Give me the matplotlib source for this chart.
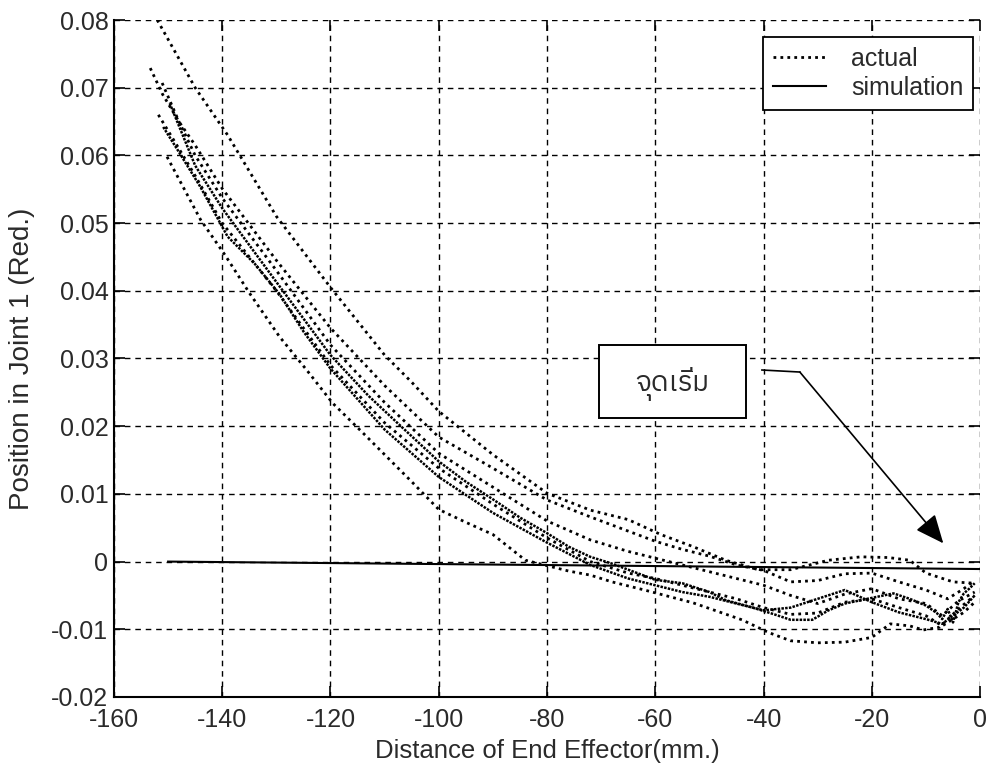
import matplotlib
matplotlib.use('Agg')
import matplotlib.pyplot as plt
from matplotlib import font_manager as fm
from matplotlib.ft2font import FT2Font
from matplotlib.lines import Line2D
from matplotlib.patches import Rectangle

xa = [-152, -145, -139, -130, -120, -110, -105, -100, -90, -80, -72, -65, -59, -53, -47, -41, -35, -28, -22, -17, -13, -10, -5, -1]
ya = [0.080, 0.0700, 0.0630, 0.0510, 0.0405, 0.0305, 0.0265, 0.0222, 0.0158, 0.0101, 0.0076, 0.0062, 0.0040, 0.0022, 0.0002, -0.0012, -0.0012, 0.0002, 0.0007, 0.0006, 0.0002, -0.0017, -0.0030, -0.0032]

xb = [-153.3, -151, -148, -145, -140, -130, -120, -110, -100, -90, -80, -72, -65, -60, -55, -50, -45, -40, -35, -30, -25, -20, -15, -10, -6, -3, -1]
yb = [0.0729, 0.0690, 0.0650, 0.0615, 0.0551, 0.0445, 0.0345, 0.0260, 0.0184, 0.0138, 0.0091, 0.0066, 0.0045, 0.0030, 0.0018, 0.0008, -0.0005, -0.0013, -0.0030, -0.0028, -0.0018, -0.0017, -0.0030, -0.0042, -0.0055, -0.0040, -0.0028]

xc = [-151.1, -148, -145, -140, -130, -120, -110, -100, -90, -80, -72, -65, -60, -55, -50, -45, -40, -35, -30, -25, -20, -15, -10, -7, -4, -1]
yc = [0.0707, 0.0650, 0.0600, 0.0537, 0.0430, 0.0320, 0.0235, 0.0160, 0.0110, 0.0060, 0.0032, 0.0015, 0.0005, -0.0005, -0.0015, -0.0025, -0.0035, -0.0050, -0.0062, -0.0048, -0.0040, -0.0055, -0.0062, -0.0080, -0.0058, -0.0045]

xh = [-149.7, -145, -140, -130, -120, -113, -107, -100, -95, -90, -85, -80, -76, -72, -68, -60, -55, -50, -47, -42, -38, -35, -31, -28, -25, -22, -19, -16, -13, -10, -8, -7, -6, -5, -4, -3, -2, -1]
yh = [0.0677, 0.0585, 0.0522, 0.0413, 0.0305, 0.0245, 0.0200, 0.0148, 0.0118, 0.0092, 0.0065, 0.0042, 0.0022, 0.0007, -0.0003, -0.0027, -0.0032, -0.0045, -0.0057, -0.0068, -0.0078, -0.0086, -0.0086, -0.0072, -0.0062, -0.0057, -0.0052, -0.0047, -0.0055, -0.0065, -0.0076, -0.0085, -0.0070, -0.0090, -0.0060, -0.0047, -0.0040, -0.0032]

xe = [-151.8, -148, -145, -140, -130, -120, -110, -100, -90, -80, -72, -65, -60, -55, -50, -45, -40, -35, -30, -25, -20, -15, -10, -7, -5, -3, -1]
ye = [0.0660, 0.0610, 0.0570, 0.0500, 0.0400, 0.0290, 0.0205, 0.0138, 0.0085, 0.0035, 0.0000, -0.0017, -0.0025, -0.0035, -0.0045, -0.0055, -0.0068, -0.0078, -0.0076, -0.0060, -0.0055, -0.0068, -0.0080, -0.0095, -0.0085, -0.0075, -0.0060]

xf = [-150.9, -148, -144, -139, -134, -129.4, -125, -120, -110, -100, -90, -80, -72, -65, -60, -55, -50, -45, -40, -35, -30, -25, -20, -15, -10, -7, -5, -3, -1]
yf = [0.0642, 0.0605, 0.0553, 0.0480, 0.0440, 0.0395, 0.0340, 0.0285, 0.0195, 0.0125, 0.0072, 0.0028, -0.0005, -0.0025, -0.0035, -0.0045, -0.0052, -0.0062, -0.0072, -0.0068, -0.0055, -0.0042, -0.0060, -0.0075, -0.0085, -0.0092, -0.0080, -0.0068, -0.0050]

xd = [-150.2, -147, -144, -139.5, -135, -129.4, -124.4, -119.6, -114, -110, -105, -100, -95, -90, -84, -80, -76, -72, -68, -62, -53, -44, -39, -35, -30, -25, -20, -16.6, -13, -10.5, -7.5, -4, -1]
yd = [0.0598, 0.0550, 0.0505, 0.0453, 0.0397, 0.0332, 0.0283, 0.0234, 0.0190, 0.0158, 0.0118, 0.0077, 0.0058, 0.0040, 0.0002, -0.0006, -0.0014, -0.0020, -0.0030, -0.0042, -0.0061, -0.0086, -0.0105, -0.0117, -0.0120, -0.0119, -0.0112, -0.0092, -0.0095, -0.0101, -0.0097, -0.0070, -0.0050]

# simulation
xs = [-150, 0]
ys = [0.0, -0.0011]

xticks = [-160, -140, -120, -100, -80, -60, -40, -20, 0]
yticks = [-0.02, -0.01, 0, 0.01, 0.02, 0.03, 0.04, 0.05, 0.06, 0.07, 0.08]
yticklabels = ['-0.02', '-0.01', '0', '0.01', '0.02', '0.03', '0.04', '0.05', '0.06', '0.07', '0.08']

# find something that can draw Thai
thai_font = None
fonts = sorted(fm.fontManager.ttflist, key=lambda f: 'Thai' not in f.name)
for f in fonts:
    try:
        if FT2Font(f.fname).get_char_index(0x0E08):
            thai_font = f.name
            break
    except Exception:
        pass

plt.rcParams['font.family'] = ['Liberation Sans', 'DejaVu Sans']
plt.rcParams['axes.unicode_minus'] = False
txt = '#2a2a2a'

fig = plt.figure(figsize=(9.91, 7.79), dpi=100)
ax = fig.add_axes([0.115, 0.1053, 0.874, 0.869])

dot = (0, (1, 1.5))
dense = (0, (1, 0.5))
for x, y in [(xa, ya), (xb, yb), (xc, yc), (xe, ye), (xd, yd)]:
    ax.plot(x, y, color='black', lw=2.0, linestyle=dot)
for x, y in [(xh, yh), (xf, yf)]:
    ax.plot(x, y, color='black', lw=1.8, linestyle=dense)
ax.plot(xs, ys, color='black', lw=1.5)

ax.set_xlim(-160, 0)
ax.set_ylim(-0.02, 0.08)
ax.set_xticks(xticks)
ax.set_yticks(yticks)
ax.set_yticklabels(yticklabels)
ax.tick_params(direction='in', length=8, width=1.2, top=True, right=True,
               labelsize=18, labelcolor=txt)
ax.tick_params(axis='x', pad=8)
ax.tick_params(axis='y', pad=4)
ax.grid(True, color='black', linestyle=(0, (4, 3.5)), lw=1)
ax.spines['top'].set_visible(False)
ax.spines['right'].set_visible(False)
ax.spines['left'].set_linewidth(1.5)
ax.spines['bottom'].set_linewidth(1.5)

ax.set_xlabel('Distance of End Effector(mm.)', fontsize=18.5, color=txt, labelpad=5)
ax.set_ylabel('Position in Joint 1 (Red.)', fontsize=20, color=txt, labelpad=12)

# legend
handles = [Line2D([], [], color='black', lw=2.0, linestyle=dot),
           Line2D([], [], color='black', lw=1.5)]
leg = ax.legend(handles, ['actual', 'simulation'], loc='upper right',
                bbox_to_anchor=(0.992, 0.975), fontsize=18, fancybox=False,
                framealpha=1, edgecolor='black', handlelength=2.1,
                handletextpad=1.0, borderpad=0.4, labelspacing=0.2,
                borderaxespad=0)
leg.get_frame().set_linewidth(1.3)
for t in leg.get_texts():
    t.set_color(txt)

# annotation box with arrow
ax.add_patch(Rectangle((-70.4, 0.0212), 27.2, 0.0108, fc='white', ec='black', lw=1.4, zorder=5))
fam = [thai_font, 'DejaVu Sans'] if thai_font else ['DejaVu Sans']
ax.text(-56.8, 0.0262, 'จุดเริ่ม', fontsize=20, family=fam, ha='center', va='center',
        color=txt, zorder=6)
ax.plot([-40.3, -33.3], [0.0283, 0.0280], color='black', lw=1.2)
ax.annotate('', xy=(-6.8, 0.0027), xytext=(-33.3, 0.0280),
            arrowprops=dict(arrowstyle='-|>,head_length=0.8,head_width=0.35',
                            color='black', lw=1.2, mutation_scale=22,
                            shrinkA=0, shrinkB=0))

fig.savefig('out.png', dpi=100)
